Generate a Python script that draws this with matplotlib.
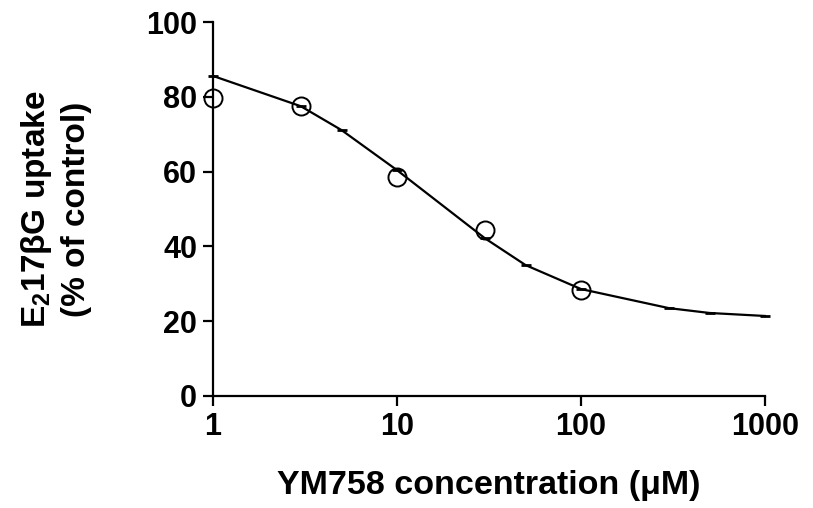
import numpy as np
import matplotlib.pyplot as plt

plt.rcParams['font.family'] = ['Liberation Sans', 'DejaVu Sans']
plt.rcParams['font.weight'] = 'bold'
plt.rcParams['mathtext.fontset'] = 'custom'
plt.rcParams['mathtext.rm'] = 'Liberation Sans:bold'
plt.rcParams['mathtext.it'] = 'Liberation Sans:bold'
plt.rcParams['mathtext.bf'] = 'Liberation Sans:bold'

# measured uptake (% of control)
conc = [1, 3, 10, 30, 100]
uptake = [79.8, 77.6, 58.6, 44.4, 28.3]

# fitted curve, read at the points where it is drawn
fit_conc = [1, 3, 5, 10, 30, 50, 100, 300, 500, 1000]
fit_uptake = [85.6, 77.5, 71.1, 60.4, 42.2, 35.0, 28.6, 23.5, 22.2, 21.4]

xticks = [1, 10, 100, 1000]
yticks = [0, 20, 40, 60, 80, 100]

fig = plt.figure(figsize=(8.13, 5.08), dpi=100)
ax = fig.add_axes([0.262, 0.2205, 0.679, 0.736])

ax.plot(fit_conc, fit_uptake, color='black', lw=1.6, marker='_', ms=7, mew=2, clip_on=False)
ax.plot(conc, uptake, 'o', mfc='none', mec='black', ms=13, mew=1.4, clip_on=False)

ax.set_xscale('log')
ax.set_xlim(1, 1000)
ax.set_ylim(0, 100)
ax.set_xticks(xticks)
ax.set_xticklabels([str(t) for t in xticks])
ax.minorticks_off()
ax.set_yticks(yticks)

for s in ['top', 'right']:
    ax.spines[s].set_visible(False)
for s in ['left', 'bottom']:
    ax.spines[s].set_linewidth(1.6)
ax.tick_params(direction='out', length=7.5, width=1.6, labelsize=22, pad=4)

ax.set_xlabel('YM758 concentration (μM)', fontsize=24.5, fontweight='bold', labelpad=20)
ax.set_ylabel('E$_2$17βG uptake\n(% of control)', fontsize=24, fontweight='bold',
              labelpad=39, linespacing=1.3)

plt.savefig('out.png', dpi=100)
